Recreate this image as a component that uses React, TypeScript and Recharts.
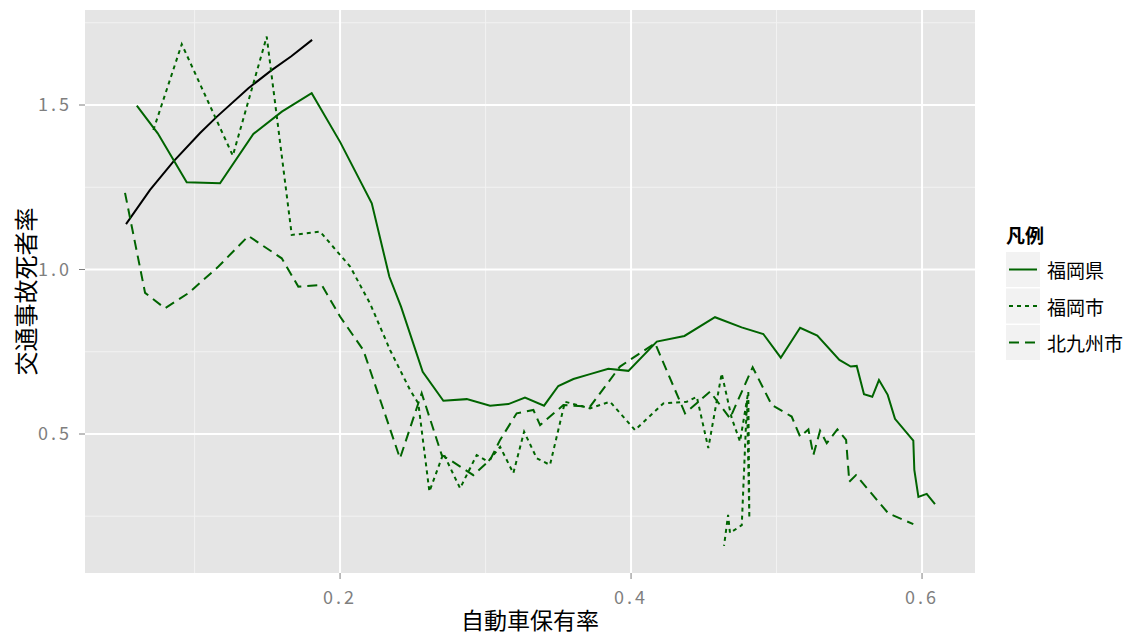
import { LineChart, Line, XAxis, YAxis, CartesianGrid } from "recharts";

// 福岡県
const prefX = [0.0603, 0.0747, 0.0946, 0.1175, 0.1404, 0.16, 0.1805, 0.2, 0.2218, 0.2339, 0.2419, 0.2568, 0.271, 0.2871, 0.3031, 0.3157, 0.3271, 0.3402, 0.35, 0.3604, 0.3718, 0.3844, 0.3982, 0.4177, 0.4367, 0.4577, 0.476, 0.4909, 0.5029, 0.5162, 0.528, 0.5432, 0.551, 0.5551, 0.5601, 0.5658, 0.5704, 0.5764, 0.5814, 0.594, 0.5947, 0.5975, 0.6032, 0.6089];
const prefY = [1.498, 1.414, 1.265, 1.262, 1.412, 1.48, 1.536, 1.388, 1.201, 0.978, 0.887, 0.689, 0.601, 0.606, 0.586, 0.591, 0.611, 0.586, 0.646, 0.667, 0.682, 0.698, 0.692, 0.781, 0.798, 0.855, 0.824, 0.804, 0.732, 0.823, 0.799, 0.725, 0.705, 0.707, 0.621, 0.613, 0.664, 0.619, 0.546, 0.48, 0.391, 0.309, 0.318, 0.287];

// 福岡市
const cityX = [0.0717, 0.0912, 0.1263, 0.1496, 0.1668, 0.1863, 0.2069, 0.2206, 0.2344, 0.2481, 0.2538, 0.2614, 0.271, 0.2825, 0.2939, 0.3017, 0.31, 0.3191, 0.3265, 0.3352, 0.3443, 0.3546, 0.3718, 0.3856, 0.4027, 0.4222, 0.4383, 0.4452, 0.4531, 0.4623, 0.4692, 0.4749, 0.4806, 0.4813, 0.4797, 0.4761, 0.468, 0.4667, 0.4639];
const cityY = [1.424, 1.685, 1.346, 1.708, 1.105, 1.115, 1.009, 0.897, 0.755, 0.634, 0.593, 0.325, 0.441, 0.335, 0.436, 0.416, 0.461, 0.381, 0.507, 0.426, 0.406, 0.598, 0.578, 0.598, 0.512, 0.593, 0.598, 0.613, 0.457, 0.684, 0.548, 0.477, 0.629, 0.244, 0.603, 0.223, 0.199, 0.254, 0.16];

// 北九州市
const kitaX = [0.0522, 0.066, 0.0797, 0.0957, 0.1164, 0.137, 0.1599, 0.1713, 0.1874, 0.2, 0.216, 0.2412, 0.2561, 0.2699, 0.2756, 0.2916, 0.3031, 0.31, 0.3214, 0.3329, 0.3375, 0.3535, 0.3718, 0.3924, 0.4165, 0.4371, 0.4543, 0.468, 0.4836, 0.4967, 0.5104, 0.5162, 0.5219, 0.5253, 0.5299, 0.5345, 0.5418, 0.5478, 0.55, 0.5546, 0.5768, 0.594];
const kitaY = [1.233, 0.929, 0.882, 0.928, 1.009, 1.102, 1.034, 0.948, 0.953, 0.857, 0.755, 0.426, 0.624, 0.436, 0.421, 0.375, 0.421, 0.482, 0.563, 0.573, 0.527, 0.588, 0.583, 0.705, 0.776, 0.563, 0.629, 0.548, 0.703, 0.588, 0.553, 0.492, 0.514, 0.436, 0.51, 0.472, 0.514, 0.482, 0.355, 0.375, 0.259, 0.226];

// black curve (no legend entry)
const fitX = [0.0529, 0.0694, 0.0854, 0.1038, 0.1152, 0.137, 0.153, 0.1665, 0.1808];
const fitY = [1.138, 1.242, 1.328, 1.415, 1.464, 1.551, 1.606, 1.648, 1.698];

const X_TICKS = [0.2, 0.4, 0.6];
const X_MINOR = [0.1, 0.3, 0.5];
const Y_TICKS = [0.5, 1.0, 1.5];
const Y_MINOR = [0.25, 0.75, 1.25, 1.75];

const GREEN = "#006400";
const FONT = '"Noto Sans CJK JP", "Noto Sans", sans-serif';
const GREY = "#7F7F7F";

const SERIES = [
  { name: "福岡県", xs: prefX, ys: prefY, dash: undefined as string | undefined },
  { name: "福岡市", xs: cityX, ys: cityY, dash: "4 4" },
  { name: "北九州市", xs: kitaX, ys: kitaY, dash: "10 6" },
];

const toPoints = (xs: number[], ys: number[]) => xs.map((x, i) => ({ x, y: ys[i] }));

function XTitle(props: any) {
  const vb = props.viewBox ?? { x: 85, y: 573, width: 890, height: 50 };
  return (
    <text x={vb.x + vb.width / 2} y={619} textAnchor="middle" dominantBaseline="central"
      style={{ fontFamily: FONT, fontSize: 23, fill: "#000" }}>
      自動車保有率
    </text>
  );
}

function YTitle(props: any) {
  const vb = props.viewBox ?? { x: 25, y: 10, width: 60, height: 563 };
  const cy = vb.y + vb.height / 2;
  return (
    <text x={24} y={cy} textAnchor="middle" dominantBaseline="central" transform={`rotate(-90 24 ${cy})`}
      style={{ fontFamily: FONT, fontSize: 24, fill: "#000" }}>
      交通事故死者率
    </text>
  );
}

function LegendBox() {
  return (
    <svg width={130} height={150} style={{ position: "absolute", left: 1000, top: 222 }}>
      <text x={6} y={21} style={{ fontFamily: FONT, fontSize: 19, fontWeight: 700, fill: "#000" }}>凡例</text>
      {SERIES.map((s, i) => {
        const top = 30 + i * 36.5;
        return (
          <g key={s.name}>
            <rect x={6} y={top} width={34} height={35} fill="#F2F2F2" />
            <line x1={9} x2={37} y1={top + 17.5} y2={top + 17.5} stroke={GREEN} strokeWidth={2} strokeDasharray={s.dash} />
            <text x={47} y={top + 17.5} dominantBaseline="central" style={{ fontFamily: FONT, fontSize: 19, fill: "#000" }}>
              {s.name}
            </text>
          </g>
        );
      })}
    </svg>
  );
}

export default function App() {
  return (
    <div style={{ position: "absolute", left: 0, top: 0, width: 1130, height: 637, background: "#fff" }}>
      <LineChart width={1130} height={637} margin={{ top: 10, right: 155, left: 25, bottom: 14 }}>
        <CartesianGrid fill="#E5E5E5" fillOpacity={1} stroke="#F2F2F2" strokeWidth={1}
          horizontalValues={Y_MINOR} verticalValues={X_MINOR} />
        <CartesianGrid fill="none" stroke="#FFFFFF" strokeWidth={2}
          horizontalValues={Y_TICKS} verticalValues={X_TICKS} />
        <XAxis type="number" dataKey="x" domain={[0.0247, 0.6364]} allowDataOverflow ticks={X_TICKS}
          tickFormatter={(v: number) => v.toFixed(1)} height={50} axisLine={false}
          tickLine={{ stroke: GREY }} tickSize={6} tickMargin={12}
          tick={{ fill: GREY, fontSize: 18, fontFamily: FONT, style: { letterSpacing: "3px" } }}
          label={<XTitle />} />
        <YAxis type="number" dataKey="y" domain={[0.0775, 1.7888]} allowDataOverflow ticks={Y_TICKS}
          tickFormatter={(v: number) => v.toFixed(1)} width={60} axisLine={false}
          tickLine={{ stroke: GREY }} tickSize={6} tickMargin={7}
          tick={{ fill: GREY, fontSize: 18, fontFamily: FONT, style: { letterSpacing: "3px" } }}
          label={<YTitle />} />
        <Line data={toPoints(fitX, fitY)} dataKey="y" type="linear" stroke="#000" strokeWidth={2}
          dot={false} isAnimationActive={false} legendType="none" />
        {SERIES.map((s) => (
          <Line key={s.name} name={s.name} data={toPoints(s.xs, s.ys)} dataKey="y" type="linear"
            stroke={GREEN} strokeWidth={2} strokeDasharray={s.dash} dot={false} isAnimationActive={false} />
        ))}
      </LineChart>
      <LegendBox />
    </div>
  );
}
